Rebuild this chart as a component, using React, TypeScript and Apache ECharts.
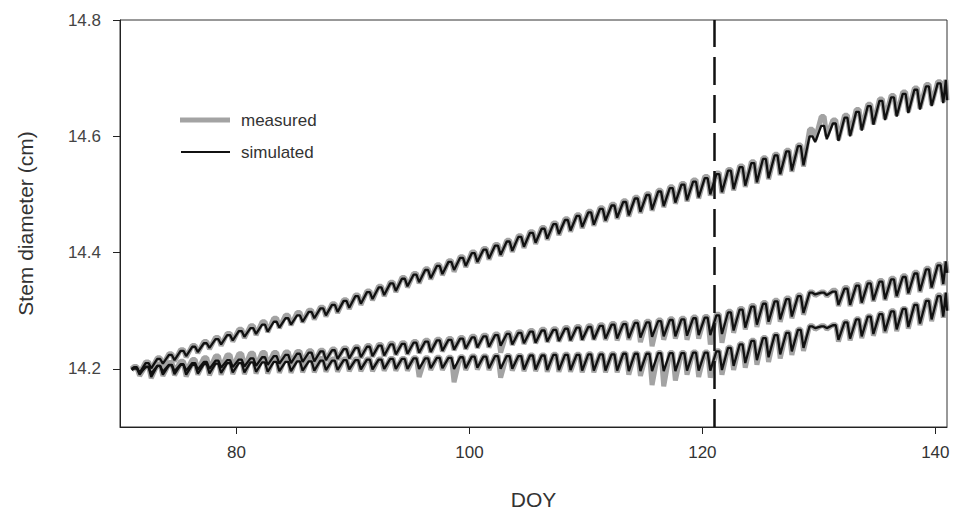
import React, { useEffect, useRef } from "react";
import * as echarts from "echarts";

// Day of year of the first daily cycle (one entry per day in the arrays below)
const FIRST_DOY = 71;
const X_TICKS = [80, 100, 120, 140];
const Y_TICKS = [14.2, 14.4, 14.6, 14.8];
const EVENT_DOY = 121;

// ---- Upper tree (A) ----
const A_SIM_MAX = [14.203, 14.210, 14.217, 14.224, 14.231, 14.238, 14.244, 14.251, 14.258, 14.265,
  14.270, 14.276, 14.281, 14.287, 14.292, 14.298, 14.304, 14.310, 14.317, 14.325,
  14.332, 14.340, 14.347, 14.355, 14.362, 14.370, 14.377, 14.384, 14.391, 14.399,
  14.405, 14.412, 14.419, 14.427, 14.434, 14.441, 14.449, 14.456, 14.463, 14.469,
  14.475, 14.481, 14.487, 14.493, 14.499, 14.505, 14.511, 14.517, 14.522, 14.528,
  14.535, 14.541, 14.547, 14.554, 14.561, 14.567, 14.574, 14.583, 14.600, 14.618,
  14.622, 14.632, 14.642, 14.652, 14.661, 14.667, 14.673, 14.680, 14.686, 14.691];
const A_SIM_MIN = [14.193, 14.201, 14.209, 14.215, 14.222, 14.229, 14.236, 14.242, 14.249, 14.255,
  14.260, 14.264, 14.271, 14.276, 14.281, 14.287, 14.292, 14.298, 14.305, 14.312,
  14.320, 14.327, 14.334, 14.342, 14.349, 14.356, 14.363, 14.370, 14.377, 14.384,
  14.390, 14.396, 14.403, 14.410, 14.417, 14.424, 14.432, 14.438, 14.444, 14.448,
  14.455, 14.460, 14.464, 14.470, 14.474, 14.480, 14.486, 14.490, 14.495, 14.500,
  14.504, 14.509, 14.515, 14.521, 14.528, 14.535, 14.541, 14.550, 14.590, 14.595,
  14.592, 14.600, 14.610, 14.620, 14.628, 14.634, 14.640, 14.646, 14.652, 14.657];
const A_MEAS_MAX = [14.204, 14.212, 14.219, 14.226, 14.233, 14.240, 14.247, 14.254, 14.261, 14.268,
  14.274, 14.281, 14.287, 14.292, 14.297, 14.301, 14.306, 14.312, 14.319, 14.327,
  14.334, 14.342, 14.349, 14.357, 14.364, 14.372, 14.379, 14.386, 14.393, 14.401,
  14.407, 14.414, 14.421, 14.429, 14.436, 14.443, 14.451, 14.458, 14.465, 14.471,
  14.477, 14.483, 14.489, 14.495, 14.501, 14.507, 14.513, 14.519, 14.525, 14.531,
  14.537, 14.543, 14.549, 14.556, 14.563, 14.569, 14.576, 14.585, 14.612, 14.634,
  14.628, 14.636, 14.646, 14.655, 14.664, 14.670, 14.676, 14.683, 14.689, 14.694];
const A_MEAS_MIN = [14.192, 14.199, 14.207, 14.213, 14.220, 14.227, 14.234, 14.240, 14.247, 14.253,
  14.258, 14.263, 14.270, 14.275, 14.280, 14.285, 14.290, 14.296, 14.303, 14.310,
  14.318, 14.325, 14.332, 14.340, 14.347, 14.354, 14.361, 14.367, 14.375, 14.382,
  14.388, 14.394, 14.401, 14.408, 14.415, 14.422, 14.430, 14.436, 14.442, 14.446,
  14.453, 14.458, 14.462, 14.468, 14.472, 14.478, 14.484, 14.488, 14.493, 14.498,
  14.502, 14.507, 14.513, 14.519, 14.526, 14.533, 14.539, 14.548, 14.594, 14.600,
  14.594, 14.602, 14.612, 14.621, 14.630, 14.636, 14.642, 14.648, 14.654, 14.659];

// ---- Middle tree (B) ----
const B_SIM_MAX = [14.201, 14.203, 14.205, 14.207, 14.208, 14.210, 14.212, 14.214, 14.215, 14.216,
  14.218, 14.220, 14.222, 14.224, 14.226, 14.228, 14.230, 14.232, 14.234, 14.236,
  14.238, 14.240, 14.242, 14.243, 14.245, 14.247, 14.249, 14.250, 14.252, 14.254,
  14.256, 14.258, 14.260, 14.262, 14.264, 14.266, 14.267, 14.269, 14.271, 14.272,
  14.274, 14.276, 14.277, 14.279, 14.280, 14.282, 14.284, 14.285, 14.287, 14.288,
  14.292, 14.297, 14.302, 14.307, 14.312, 14.316, 14.320, 14.325, 14.331, 14.331,
  14.333, 14.338, 14.343, 14.347, 14.350, 14.354, 14.358, 14.364, 14.371, 14.378];
const B_SIM_MIN = [14.193, 14.192, 14.195, 14.196, 14.197, 14.199, 14.200, 14.202, 14.203, 14.204,
  14.205, 14.207, 14.209, 14.210, 14.212, 14.213, 14.215, 14.217, 14.218, 14.220,
  14.222, 14.223, 14.225, 14.226, 14.228, 14.229, 14.231, 14.233, 14.235, 14.237,
  14.238, 14.240, 14.242, 14.244, 14.245, 14.247, 14.248, 14.249, 14.250, 14.251,
  14.252, 14.252, 14.253, 14.254, 14.255, 14.256, 14.256, 14.257, 14.258, 14.258,
  14.260, 14.266, 14.271, 14.276, 14.281, 14.285, 14.290, 14.296, 14.328, 14.327,
  14.310, 14.310, 14.314, 14.318, 14.320, 14.325, 14.330, 14.334, 14.340, 14.346];
const B_MEAS_MAX = [14.202, 14.205, 14.208, 14.211, 14.213, 14.216, 14.219, 14.222, 14.224, 14.226,
  14.227, 14.228, 14.228, 14.229, 14.230, 14.231, 14.232, 14.234, 14.236, 14.238,
  14.240, 14.242, 14.244, 14.245, 14.247, 14.249, 14.251, 14.252, 14.254, 14.256,
  14.258, 14.260, 14.262, 14.264, 14.266, 14.268, 14.269, 14.271, 14.273, 14.274,
  14.276, 14.278, 14.279, 14.281, 14.282, 14.284, 14.286, 14.287, 14.289, 14.290,
  14.294, 14.299, 14.304, 14.309, 14.314, 14.318, 14.322, 14.327, 14.332, 14.332,
  14.335, 14.340, 14.345, 14.349, 14.352, 14.356, 14.360, 14.366, 14.373, 14.380];
const B_MEAS_MIN = [14.192, 14.191, 14.194, 14.195, 14.196, 14.198, 14.199, 14.201, 14.202, 14.203,
  14.204, 14.206, 14.208, 14.209, 14.211, 14.212, 14.214, 14.216, 14.217, 14.219,
  14.221, 14.222, 14.224, 14.225, 14.227, 14.228, 14.230, 14.232, 14.234, 14.236,
  14.237, 14.228, 14.241, 14.243, 14.244, 14.246, 14.247, 14.248, 14.249, 14.250,
  14.250, 14.249, 14.250, 14.246, 14.239, 14.250, 14.252, 14.250, 14.252, 14.242,
  14.245, 14.262, 14.268, 14.272, 14.277, 14.281, 14.287, 14.293, 14.326, 14.325,
  14.308, 14.308, 14.312, 14.316, 14.318, 14.323, 14.328, 14.332, 14.338, 14.344];

// ---- Lower tree (C) ----
const C_SIM_MAX = [14.201, 14.204, 14.205, 14.206, 14.207, 14.207, 14.208, 14.209, 14.210, 14.210,
  14.211, 14.211, 14.212, 14.212, 14.213, 14.213, 14.214, 14.214, 14.215, 14.215,
  14.216, 14.216, 14.217, 14.217, 14.218, 14.218, 14.219, 14.219, 14.220, 14.221,
  14.221, 14.222, 14.222, 14.222, 14.223, 14.223, 14.224, 14.224, 14.224, 14.225,
  14.225, 14.225, 14.226, 14.226, 14.226, 14.227, 14.227, 14.227, 14.228, 14.228,
  14.230, 14.236, 14.242, 14.248, 14.253, 14.258, 14.262, 14.267, 14.273, 14.273,
  14.275, 14.280, 14.285, 14.290, 14.294, 14.299, 14.303, 14.310, 14.317, 14.325];
const C_SIM_MIN = [14.190, 14.186, 14.190, 14.191, 14.190, 14.192, 14.192, 14.193, 14.194, 14.194,
  14.195, 14.195, 14.196, 14.196, 14.197, 14.197, 14.198, 14.198, 14.199, 14.199,
  14.199, 14.200, 14.200, 14.200, 14.200, 14.201, 14.201, 14.200, 14.201, 14.202,
  14.201, 14.200, 14.200, 14.199, 14.199, 14.198, 14.198, 14.198, 14.197, 14.197,
  14.197, 14.197, 14.196, 14.196, 14.196, 14.196, 14.196, 14.197, 14.197, 14.197,
  14.198, 14.205, 14.210, 14.215, 14.220, 14.225, 14.230, 14.236, 14.270, 14.270,
  14.250, 14.252, 14.256, 14.260, 14.265, 14.268, 14.272, 14.278, 14.285, 14.290];
const C_MEAS_MAX = [14.202, 14.205, 14.207, 14.208, 14.209, 14.210, 14.212, 14.214, 14.216, 14.217,
  14.218, 14.219, 14.219, 14.220, 14.220, 14.219, 14.218, 14.217, 14.217, 14.217,
  14.217, 14.217, 14.218, 14.218, 14.219, 14.219, 14.220, 14.220, 14.221, 14.222,
  14.222, 14.223, 14.223, 14.223, 14.224, 14.224, 14.225, 14.225, 14.225, 14.226,
  14.226, 14.226, 14.227, 14.227, 14.227, 14.228, 14.228, 14.228, 14.229, 14.229,
  14.231, 14.237, 14.243, 14.249, 14.254, 14.259, 14.263, 14.268, 14.274, 14.274,
  14.276, 14.281, 14.286, 14.291, 14.295, 14.300, 14.304, 14.311, 14.318, 14.327];
const C_MEAS_MIN = [14.188, 14.184, 14.188, 14.189, 14.187, 14.190, 14.189, 14.190, 14.191, 14.191,
  14.192, 14.192, 14.193, 14.193, 14.194, 14.194, 14.195, 14.195, 14.196, 14.196,
  14.196, 14.197, 14.197, 14.197, 14.186, 14.198, 14.198, 14.177, 14.198, 14.199,
  14.198, 14.185, 14.197, 14.196, 14.196, 14.195, 14.195, 14.195, 14.194, 14.194,
  14.194, 14.194, 14.190, 14.188, 14.172, 14.170, 14.180, 14.190, 14.186, 14.185,
  14.190, 14.198, 14.202, 14.207, 14.212, 14.218, 14.224, 14.231, 14.268, 14.268,
  14.247, 14.249, 14.253, 14.257, 14.262, 14.265, 14.269, 14.275, 14.282, 14.288];

// start value (DOY 71), last peak and last value (DOY 141) for each record
const A_ENDS = [14.200, 14.697, 14.662];
const B_ENDS = [14.200, 14.385, 14.365];
const C_ENDS = [14.198, 14.331, 14.300];

function build(maxArr: number[], minArr: number[], ends: number[]): number[][] {
  const pts: number[][] = [[FIRST_DOY, ends[0]]];
  maxArr.forEach((mx, i) => {
    const d = FIRST_DOY + i;
    pts.push([d + 0.2, mx], [d + 0.45, mx], [d + 0.68, minArr[i]]);
  });
  const last = FIRST_DOY + maxArr.length;
  pts.push([last - 0.1, ends[1]], [last, ends[2]]);
  return pts;
}

const FONT = "'Liberation Sans', Arial, sans-serif";

export default function App() {
  const ref = useRef<HTMLDivElement>(null);
  useEffect(() => {
    if (!ref.current) return;
    const chart = echarts.init(ref.current, undefined, { renderer: "svg" });
    const meas = (name: string, data: number[][]) => ({
      name, type: "line", data, symbol: "none", silent: true,
      lineStyle: { color: "#a3a3a3", width: 5 }, z: 2,
    });
    const sim = (name: string, data: number[][]) => ({
      name, type: "line", data, symbol: "none", silent: true,
      lineStyle: { color: "#111111", width: 2.3 }, z: 3,
    });
    chart.setOption({
      animation: false,
      backgroundColor: "#ffffff",
      grid: { left: 120, right: 9, top: 20, bottom: 90, show: true, borderColor: "#333", borderWidth: 1 },
      xAxis: {
        type: "value", min: 70, max: 141,
        name: "DOY", nameLocation: "middle", nameGap: 62,
        nameTextStyle: { fontFamily: FONT, fontSize: 21, color: "#333" },
        axisLine: { show: true, lineStyle: { color: "#222", width: 1 } },
        axisTick: { show: true, length: 7, customValues: X_TICKS, lineStyle: { color: "#222" } },
        axisLabel: { customValues: X_TICKS, margin: 17, fontFamily: FONT, fontSize: 17, color: "#333" },
        splitLine: { show: false },
      },
      yAxis: {
        type: "value", min: 14.1, max: 14.8,
        name: "Stem diameter (cm)", nameLocation: "middle", nameGap: 84,
        nameTextStyle: { fontFamily: FONT, fontSize: 21, color: "#333" },
        axisLine: { show: true, lineStyle: { color: "#222", width: 1 } },
        axisTick: { show: true, length: 7, customValues: Y_TICKS, lineStyle: { color: "#222" } },
        axisLabel: { customValues: Y_TICKS, margin: 19, fontFamily: FONT, fontSize: 17, color: "#444",
          formatter: (v: number) => v.toFixed(1) },
        splitLine: { show: false },
      },
      series: [
        meas("measured", build(A_MEAS_MAX, A_MEAS_MIN, A_ENDS)),
        meas("measured", build(B_MEAS_MAX, B_MEAS_MIN, B_ENDS)),
        meas("measured", build(C_MEAS_MAX, C_MEAS_MIN, C_ENDS)),
        sim("simulated", build(A_SIM_MAX, A_SIM_MIN, A_ENDS)),
        sim("simulated", build(B_SIM_MAX, B_SIM_MIN, B_ENDS)),
        {
          ...sim("simulated", build(C_SIM_MAX, C_SIM_MIN, C_ENDS)),
          markLine: {
            silent: true, symbol: "none", label: { show: false },
            lineStyle: { color: "#111", width: 2.5, type: [28, 10] },
            data: [{ xAxis: EVENT_DOY }],
          },
        },
      ],
      graphic: [
        { type: "line", shape: { x1: 180, y1: 120, x2: 230, y2: 120 }, style: { stroke: "#a3a3a3", lineWidth: 5 } },
        { type: "text", x: 241, y: 120, style: { text: "measured", fontFamily: FONT, fontSize: 17, fill: "#333", verticalAlign: "middle" } },
        { type: "line", shape: { x1: 181, y1: 152, x2: 230, y2: 152 }, style: { stroke: "#111111", lineWidth: 2 } },
        { type: "text", x: 241, y: 152, style: { text: "simulated", fontFamily: FONT, fontSize: 17, fill: "#333", verticalAlign: "middle" } },
      ],
    });
    return () => chart.dispose();
  }, []);
  return <div ref={ref} style={{ position: "fixed", left: 0, top: 0, width: 956, height: 517, background: "#fff" }} />;
}
